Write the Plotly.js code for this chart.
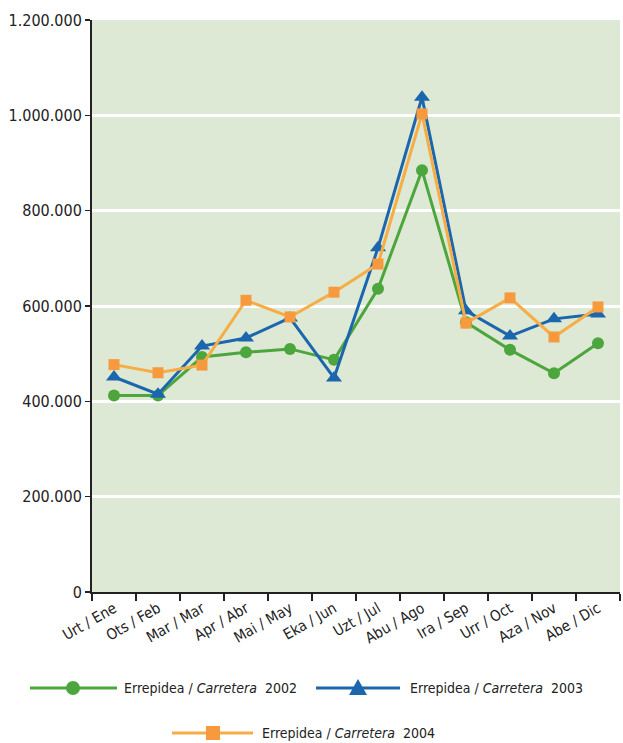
<!DOCTYPE html>
<html><head><meta charset="utf-8">
<script src="https://cdn.plot.ly/plotly-3.0.1.min.js"></script>
<style>html,body{margin:0;padding:0;background:#fff}#chart{width:623px;height:743px}</style>
</head><body><div id="chart"></div>
<script>
const months = ["Urt / Ene","Ots / Feb","Mar / Mar","Apr / Abr","Mai / May","Eka / Jun","Uzt / Jul","Abu / Ago","Ira / Sep","Urr / Oct","Aza / Nov","Abe / Dic"];
const y2002 = [412000, 412000, 493000, 503000, 510000, 487000, 636000, 885000, 566000, 508000, 459000, 522000];
const y2003 = [451000, 415000, 516000, 533000, 575000, 449000, 722000, 1038000, 590000, 537000, 573000, 583000];
const y2004 = [477000, 460000, 476000, 612000, 577000, 629000, 688000, 1003000, 564000, 617000, 535000, 598000];
const names = ["Errepidea / <i>Carretera</i>  2002","Errepidea / <i>Carretera</i>  2003","Errepidea / <i>Carretera</i>  2004"];

const FONT = '"DejaVu Sans Condensed","DejaVu Sans",sans-serif';
const cGreen = '#4ca63d', cBlue = '#1c66ad', cOrange = '#f7ad45', cOrangeM = '#f79a3e';

const L = 92, R = 620, T = 20, B = 592;
const px = x => (x - L) / (R - L);
const py = y => (B - y) / (B - T);

const traces = [
  {x: months, y: y2002, name: names[0], type: 'scatter', mode: 'lines+markers',
   line: {color: cGreen, width: 3}, marker: {symbol: 'circle', size: 12, color: cGreen}},
  {x: months, y: y2003, name: names[1], type: 'scatter', mode: 'lines+markers',
   line: {color: cBlue, width: 3}, marker: {symbol: 'triangle-up', size: 14, color: cBlue}},
  {x: months, y: y2004, name: names[2], type: 'scatter', mode: 'lines+markers',
   line: {color: cOrange, width: 3}, marker: {symbol: 'square', size: 11, color: cOrangeM}}
];

const leg = [
  {x0: 30, x1: 117, xm: 73, y: 688, tx: 122, color: cGreen, mk: 'circle', mc: cGreen},
  {x0: 316, x1: 400, xm: 358, y: 688, tx: 408, color: cBlue, mk: 'tri', mc: cBlue},
  {x0: 172, x1: 253, xm: 213, y: 733, tx: 260, color: cOrange, mk: 'sq', mc: cOrangeM}
];
const shapes = [], annotations = [];
leg.forEach((l, i) => {
  shapes.push({type: 'line', xref: 'paper', yref: 'paper', x0: px(l.x0), x1: px(l.x1), y0: py(l.y), y1: py(l.y), line: {color: l.color, width: 3}});
  const base = {xref: 'paper', yref: 'paper', xsizemode: 'pixel', ysizemode: 'pixel', xanchor: px(l.xm), yanchor: py(l.y), fillcolor: l.mc, line: {width: 0}};
  if (l.mk === 'circle') shapes.push(Object.assign({type: 'circle', x0: -7, x1: 7, y0: -7, y1: 7}, base));
  else if (l.mk === 'sq') shapes.push(Object.assign({type: 'rect', x0: -7, x1: 7, y0: -7, y1: 7}, base));
  else shapes.push(Object.assign({type: 'path', path: 'M -9 -7 L 9 -7 L 0 9 Z'}, base));
  annotations.push({xref: 'paper', yref: 'paper', x: px(l.tx), y: py(l.y), xanchor: 'left', yanchor: 'middle', showarrow: false,
    text: names[i], font: {family: FONT, size: 14, color: '#222'}});
});

const layout = {
  width: 623, height: 743,
  margin: {l: L, r: 623 - R, t: T, b: 743 - B, pad: 0},
  paper_bgcolor: '#ffffff', plot_bgcolor: '#dde9d4',
  separators: ',.',
  showlegend: false,
  font: {family: FONT, size: 15, color: '#222'},
  xaxis: {type: 'category', tickangle: -30, showgrid: false, zeroline: false,
    showline: true, linecolor: '#222', linewidth: 2, ticks: 'outside', tickson: 'boundaries', ticklen: 7, tickcolor: '#222', tickwidth: 1.5,
    tickfont: {family: FONT, size: 15, color: '#222'}, range: [-0.5, 11.5]},
  yaxis: {range: [0, 1200000], tickvals: [0, 200000, 400000, 600000, 800000, 1000000, 1200000], tickformat: ',d',
    showgrid: true, gridcolor: '#ffffff', gridwidth: 3, zeroline: false,
    showline: true, linecolor: '#222', linewidth: 2, ticks: 'outside', ticklen: 5, tickcolor: '#222', tickwidth: 1.5,
    tickfont: {family: FONT, size: 16, color: '#222'}},
  shapes: shapes, annotations: annotations
};
Plotly.newPlot('chart', traces, layout, {displayModeBar: false, staticPlot: true});
</script></body></html>
